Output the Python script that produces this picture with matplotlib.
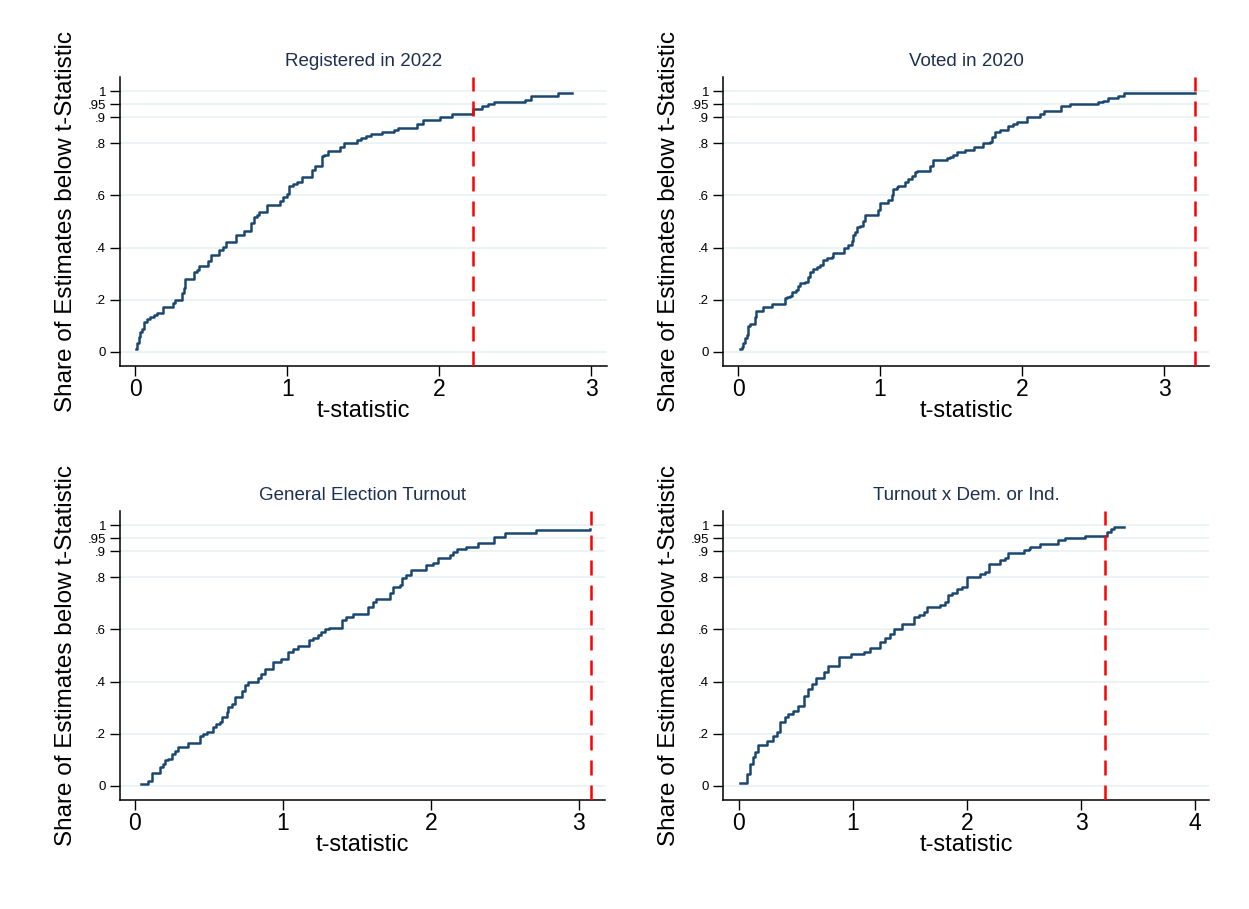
import matplotlib
matplotlib.use("Agg")
import matplotlib.pyplot as plt

plt.rcParams['font.family'] = ['Liberation Sans', 'DejaVu Sans']

# step points (t-statistic, share of estimates below)
reg22_t = [0.004, 0.011, 0.022, 0.029, 0.044, 0.055, 0.077, 0.099, 0.121, 0.143, 0.186, 0.252, 0.263,
           0.307, 0.318, 0.329, 0.384, 0.410, 0.423, 0.482, 0.498, 0.553, 0.581, 0.599, 0.664, 0.713,
           0.761, 0.779, 0.800, 0.818, 0.866, 0.950, 0.976, 0.998, 1.009, 1.037, 1.064, 1.096, 1.162,
           1.184, 1.228, 1.243, 1.272, 1.349, 1.375, 1.458, 1.485, 1.520, 1.550, 1.623, 1.700, 1.732,
           1.853, 1.893, 2.007, 2.083, 2.221, 2.281, 2.325, 2.362, 2.566, 2.603, 2.781, 2.873]
reg22_y = [0.010, 0.033, 0.059, 0.078, 0.087, 0.116, 0.125, 0.135, 0.142, 0.151, 0.174, 0.189, 0.199,
           0.225, 0.244, 0.278, 0.308, 0.314, 0.330, 0.350, 0.372, 0.391, 0.404, 0.421, 0.447, 0.465,
           0.493, 0.519, 0.525, 0.538, 0.563, 0.580, 0.595, 0.605, 0.636, 0.642, 0.653, 0.672, 0.697,
           0.713, 0.751, 0.755, 0.771, 0.787, 0.802, 0.812, 0.819, 0.828, 0.834, 0.844, 0.851, 0.857,
           0.874, 0.891, 0.902, 0.914, 0.931, 0.943, 0.949, 0.958, 0.966, 0.983, 0.991, 0.994]

vot20_t = [0.014, 0.026, 0.038, 0.049, 0.061, 0.073, 0.085, 0.120, 0.127, 0.178, 0.237, 0.331, 0.343,
           0.366, 0.378, 0.408, 0.425, 0.437, 0.472, 0.495, 0.507, 0.531, 0.554, 0.577, 0.601, 0.624,
           0.660, 0.671, 0.746, 0.777, 0.800, 0.812, 0.824, 0.840, 0.859, 0.878, 0.894, 0.988, 1.000,
           1.023, 1.059, 1.082, 1.094, 1.117, 1.129, 1.176, 1.200, 1.223, 1.246, 1.258, 1.352, 1.376,
           1.474, 1.493, 1.516, 1.545, 1.599, 1.664, 1.728, 1.775, 1.786, 1.810, 1.845, 1.904, 1.939,
           1.962, 2.038, 2.127, 2.155, 2.272, 2.338, 2.538, 2.573, 2.608, 2.678, 2.718, 3.215]
vot20_y = [0.010, 0.020, 0.033, 0.052, 0.065, 0.100, 0.107, 0.135, 0.158, 0.174, 0.183, 0.206, 0.212,
           0.216, 0.231, 0.238, 0.253, 0.263, 0.268, 0.289, 0.308, 0.317, 0.324, 0.333, 0.352, 0.359,
           0.365, 0.381, 0.397, 0.410, 0.427, 0.448, 0.461, 0.480, 0.483, 0.503, 0.525, 0.544, 0.570,
           0.572, 0.582, 0.602, 0.623, 0.631, 0.636, 0.653, 0.662, 0.674, 0.691, 0.695, 0.713, 0.736,
           0.742, 0.748, 0.755, 0.768, 0.774, 0.784, 0.802, 0.806, 0.825, 0.842, 0.851, 0.866, 0.874,
           0.883, 0.899, 0.914, 0.925, 0.943, 0.950, 0.957, 0.963, 0.973, 0.982, 0.991, 0.991]

gen_t = [0.038, 0.090, 0.113, 0.169, 0.191, 0.203, 0.225, 0.248, 0.270, 0.293, 0.360, 0.439, 0.461,
         0.484, 0.529, 0.551, 0.574, 0.585, 0.619, 0.630, 0.653, 0.675, 0.720, 0.743, 0.765, 0.833,
         0.855, 0.878, 0.930, 0.990, 1.035, 1.069, 1.103, 1.175, 1.204, 1.238, 1.260, 1.283, 1.312,
         1.402, 1.429, 1.470, 1.576, 1.609, 1.632, 1.722, 1.744, 1.789, 1.807, 1.830, 1.868, 1.969,
         2.014, 2.048, 2.127, 2.149, 2.176, 2.240, 2.318, 2.424, 2.498, 2.712, 3.075]
gen_y = [0.009, 0.019, 0.049, 0.074, 0.083, 0.099, 0.105, 0.122, 0.135, 0.151, 0.164, 0.192, 0.199,
         0.205, 0.224, 0.237, 0.244, 0.263, 0.285, 0.301, 0.314, 0.340, 0.365, 0.385, 0.397, 0.413,
         0.429, 0.449, 0.474, 0.487, 0.513, 0.526, 0.536, 0.558, 0.567, 0.577, 0.590, 0.600, 0.605,
         0.635, 0.647, 0.660, 0.686, 0.705, 0.718, 0.741, 0.763, 0.772, 0.797, 0.808, 0.827, 0.846,
         0.853, 0.874, 0.885, 0.897, 0.910, 0.917, 0.933, 0.955, 0.968, 0.981, 0.985]

dem_t = [0.009, 0.067, 0.097, 0.126, 0.140, 0.170, 0.243, 0.301, 0.331, 0.360, 0.404, 0.433, 0.477,
         0.521, 0.571, 0.609, 0.638, 0.676, 0.749, 0.784, 0.881, 0.980, 1.097, 1.150, 1.238, 1.282,
         1.326, 1.355, 1.428, 1.531, 1.574, 1.618, 1.647, 1.764, 1.808, 1.829, 1.867, 1.911, 1.955,
         1.998, 2.116, 2.159, 2.189, 2.291, 2.335, 2.356, 2.502, 2.540, 2.554, 2.642, 2.794, 2.862,
         3.037, 3.227, 3.257, 3.286, 3.374]
dem_y = [0.013, 0.045, 0.083, 0.109, 0.131, 0.156, 0.173, 0.192, 0.208, 0.244, 0.263, 0.276, 0.288,
         0.308, 0.346, 0.372, 0.391, 0.413, 0.438, 0.459, 0.494, 0.504, 0.513, 0.528, 0.551, 0.567,
         0.583, 0.600, 0.622, 0.647, 0.656, 0.667, 0.686, 0.695, 0.705, 0.733, 0.741, 0.754, 0.763,
         0.801, 0.814, 0.821, 0.849, 0.865, 0.874, 0.894, 0.904, 0.910, 0.917, 0.926, 0.942, 0.951,
         0.959, 0.974, 0.985, 0.991, 0.994]

titles = ["Registered in 2022", "Voted in 2020", "General Election Turnout", "Turnout x Dem. or Ind."]
series = [(reg22_t, reg22_y), (vot20_t, vot20_y), (gen_t, gen_y), (dem_t, dem_y)]
crit_t = [2.22, 3.22, 3.08, 3.205]
xlims = [(-0.1, 3.105), (-0.106, 3.317), (-0.101, 3.176), (-0.14, 4.12)]
xticks = [[0, 1, 2, 3], [0, 1, 2, 3], [0, 1, 2, 3], [0, 1, 2, 3, 4]]
yticks = [0, 0.2, 0.4, 0.6, 0.8, 0.9, 0.95, 1]
ylabels = ["0", ".2", ".4", ".6", ".8", ".9", ".95", "1"]

W, H = 1249, 909
# axes boxes in pixels: left, right, top, bottom
boxes = [(120, 607, 77, 366), (723, 1209, 77, 366), (120, 605, 511, 800), (723, 1209, 511, 800)]

fig = plt.figure(figsize=(W / 100, H / 100), dpi=100)
fig.patch.set_facecolor('white')

for i in range(4):
    l, r, t, b = boxes[i]
    ax = fig.add_axes([l / W, (H - b) / H, (r - l) / W, (b - t) / H])
    for y in yticks:
        ax.axhline(y, color='#eaf2f3', lw=1.3, zorder=0)
    x, y = series[i]
    ax.step(x, y, where='post', color='#1a476f', lw=1.8, zorder=2)
    ax.axvline(crit_t[i], color='#ff0000', lw=1.8, dashes=(6, 4), zorder=3)
    ax.set_xlim(*xlims[i])
    ax.set_ylim(-0.054, 1.054)
    ax.set_xticks(xticks[i])
    ax.set_xticklabels([str(v) for v in xticks[i]], fontsize=16.5)
    ax.set_yticks(yticks)
    ax.set_yticklabels(ylabels, fontsize=9.5)
    ax.tick_params(axis='y', length=7, width=1, pad=3)
    ax.tick_params(axis='x', length=7, width=1, pad=2)
    for s in ['top', 'right']:
        ax.spines[s].set_visible(False)
    for s in ['left', 'bottom']:
        ax.spines[s].set_linewidth(1.1)
    ax.set_title(titles[i], fontsize=13.5, color='#1e3050', pad=8)
    ax.set_xlabel("t-statistic", fontsize=17, labelpad=-1)
    ax.set_ylabel("Share of Estimates below t-Statistic", fontsize=17.5, labelpad=8)

fig.savefig("out.png", dpi=100, facecolor='white')
